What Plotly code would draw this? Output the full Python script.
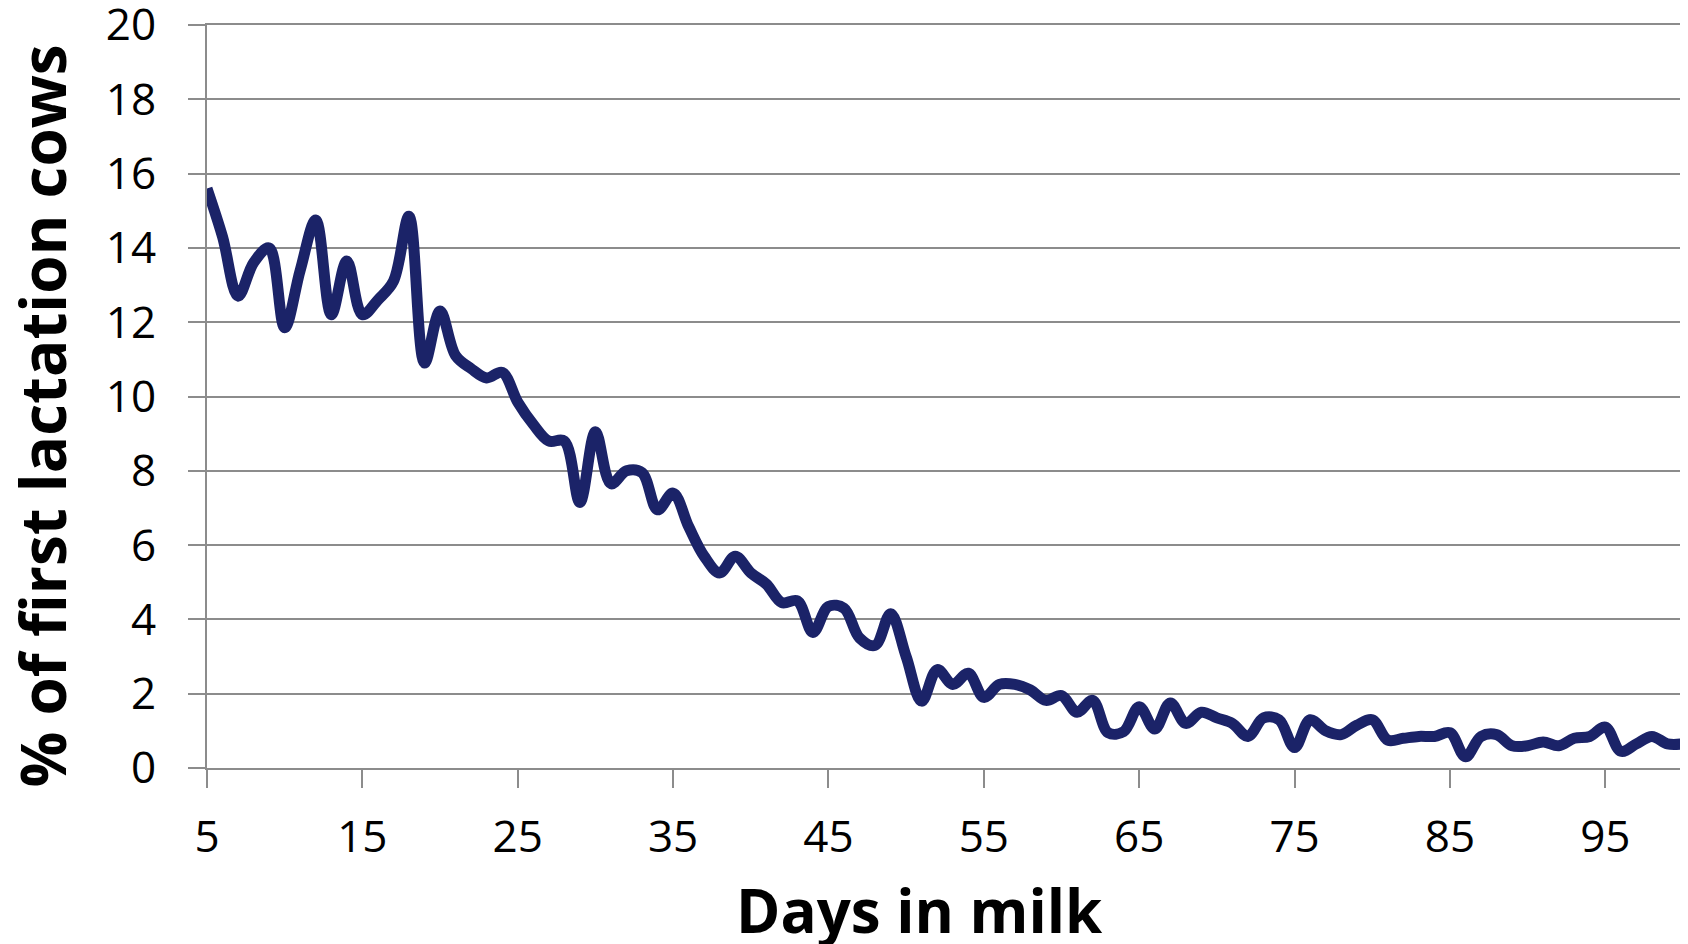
import plotly.graph_objects as go

days = list(range(5, 101))
pct_first_lactation = [
    15.6, 14.3, 12.7, 13.6, 14.0, 11.85, 13.4, 14.75, 12.2, 13.65,
    12.2, 12.6, 13.1, 14.85, 10.9, 12.3, 11.1, 10.75, 10.5, 10.65,
    9.85, 9.25, 8.8, 8.8, 7.15, 9.05, 7.65, 8.0, 7.95, 6.95,
    7.4, 6.5, 5.7, 5.25, 5.7, 5.25, 4.95, 4.45, 4.5, 3.65,
    4.35, 4.3, 3.5, 3.3, 4.15, 3.0, 1.8, 2.65, 2.25, 2.55,
    1.9, 2.25, 2.25, 2.1, 1.82, 1.95, 1.5, 1.82, 0.95, 0.98,
    1.65, 1.05, 1.75, 1.2, 1.5, 1.35, 1.2, 0.85, 1.35, 1.3,
    0.55, 1.3, 1.0, 0.9, 1.15, 1.3, 0.75, 0.8, 0.85, 0.85,
    0.95, 0.3, 0.85, 0.9, 0.6, 0.6, 0.7, 0.6, 0.8, 0.85,
    1.1, 0.45, 0.65, 0.85, 0.65, 0.65,
]
x_ticks = [5, 15, 25, 35, 45, 55, 65, 75, 85, 95]
y_ticks = list(range(0, 21, 2))
x_title = "Days in milk"
y_title = "% of first lactation cows"

GRID = "#8c8c8c"
FONT = "Open Sans"

fig = go.Figure(
    go.Scatter(
        x=days, y=pct_first_lactation, mode="lines",
        line=dict(color="#1b2368", width=11, shape="spline", smoothing=1.0),
        hoverinfo="x+y",
    )
)

# page body has an 8px margin; figure sized so the plot area matches the reference
fig.update_layout(
    width=1680, height=936,
    margin=dict(l=199, r=5, t=17, b=176),
    paper_bgcolor="white", plot_bgcolor="white",
    showlegend=False,
    font=dict(family=FONT, color="black"),
)

fig.update_xaxes(
    range=[5, 100], tickvals=x_ticks, ticktext=[str(v) for v in x_ticks],
    showgrid=False, zeroline=False, automargin=False,
    showline=True, linecolor=GRID, linewidth=2, mirror=True,
    ticks="outside", ticklen=18, tickwidth=2, tickcolor=GRID,
    tickfont=dict(family=FONT, size=44, color="black"),
    ticklabelstandoff=11, ticklabeloverflow="allow",
)

fig.update_yaxes(
    range=[0, 20], tickvals=y_ticks,
    showgrid=True, gridcolor=GRID, gridwidth=2, zeroline=False, automargin=False,
    showline=True, linecolor=GRID, linewidth=2, mirror=True,
    ticks="outside", ticklen=17, tickwidth=2, tickcolor=GRID,
    tickfont=dict(family=FONT, size=44, color="black"),
    ticklabelstandoff=23, ticklabeloverflow="allow",
)

fig.add_annotation(
    text="<b>" + x_title + "</b>", xref="paper", yref="paper", x=0.5, y=0,
    xanchor="center", yanchor="middle", xshift=-26, yshift=-142, showarrow=False,
    font=dict(family=FONT, size=60, color="black"),
)
fig.add_annotation(
    text="<b>" + y_title + "</b>", xref="paper", yref="paper", x=0, y=0.5,
    xanchor="center", yanchor="middle", xshift=-166, yshift=-20, textangle=-90,
    showarrow=False, font=dict(family=FONT, size=62, color="black"),
)

fig.write_html("out.html")
